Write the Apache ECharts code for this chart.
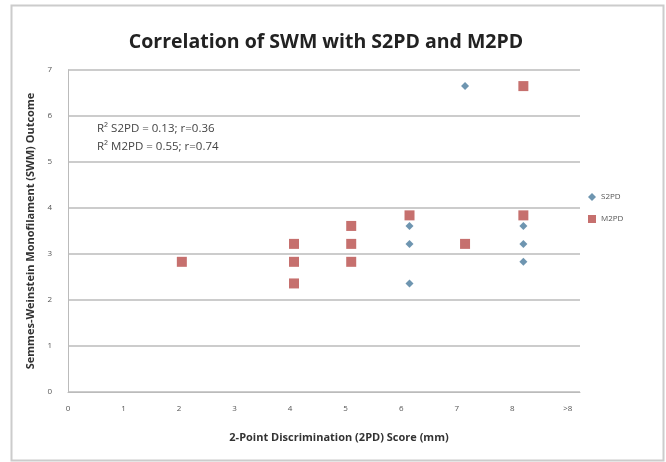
<!DOCTYPE html>
<html><head><meta charset="utf-8">
<script src="https://cdn.jsdelivr.net/npm/echarts@6/dist/echarts.min.js"></script>
<style>html,body{margin:0;padding:0;background:#fff}#c{width:666px;height:462px}</style>
</head><body><div id="c"></div>
<script>
const titleText = "Correlation of SWM with S2PD and M2PD";
const xAxisName = "2-Point Discrimination (2PD) Score (mm)";
const yAxisName = "Semmes-Weinstein Monofilament (SWM) Outcome";
const xTickLabels = ["0","1","2","3","4","5","6","7","8",">8"];
const annotLines = ["R\u00B2 S2PD = 0.13; r=0.36", "R\u00B2 M2PD = 0.55; r=0.74"];
const s2pdX = [6.15, 6.15, 6.15, 7.15, 8.2, 8.2, 8.2];
const s2pdY = [3.61, 3.22, 2.36, 6.65, 3.61, 3.22, 2.83];
const m2pdX = [2.05, 4.07, 4.07, 4.07, 5.1, 5.1, 5.1, 6.15, 7.15, 8.2, 8.2];
const m2pdY = [2.83, 3.22, 2.83, 2.36, 3.61, 3.22, 2.83, 3.84, 3.22, 3.84, 6.65];

const chart = echarts.init(document.getElementById('c'), null, {renderer:'canvas'});
const font = 'Open Sans, Liberation Sans, sans-serif';
chart.setOption({
  backgroundColor:'#fff',
  animation:false,
  title:{text:titleText,left:321,textAlign:'center',top:27,
    textStyle:{fontFamily:font,fontSize:19.5,fontWeight:'bold',color:'#222'}},
  grid:{left:68,right:86,top:70,bottom:70},
  legend:{orient:'vertical',left:583,top:188,itemGap:14,itemWidth:8,itemHeight:8,
    textStyle:{fontFamily:font,fontSize:8,color:'#555'},
    data:[{name:'S2PD',icon:'diamond'},{name:'M2PD',icon:'rect'}]},
  xAxis:{type:'value',min:0,max:9.22,interval:1,
    name:xAxisName,nameLocation:'middle',nameGap:40,
    nameTextStyle:{fontFamily:font,fontSize:11,fontWeight:'bold',color:'#333',padding:[0,0,0,30]},
    axisLine:{show:true,lineStyle:{color:'#bbb',width:1}},
    axisTick:{show:false},splitLine:{show:false},
    axisLabel:{fontFamily:font,fontSize:8,color:'#555',margin:13,showMaxLabel:false,
      formatter:v=>{const i=Math.round(v);return Math.abs(v-i)<1e-6&&xTickLabels[i]!==undefined?xTickLabels[i]:'';}}},
  yAxis:{type:'value',min:0,max:7,interval:1,
    name:yAxisName,nameLocation:'middle',nameGap:22,nameRotate:90,
    nameTextStyle:{fontFamily:font,fontSize:11,fontWeight:'bold',color:'#333'},
    axisLine:{show:true,lineStyle:{color:'#bbb',width:1}},
    axisTick:{show:false},
    splitLine:{show:true,lineStyle:{color:'#bbb',width:1.5}},
    axisLabel:{fontFamily:font,fontSize:8,color:'#555',margin:16}},
  graphic:[
    {type:'rect',shape:{x:11.5,y:5.5,width:652,height:455},style:{fill:null,stroke:'#ccc',lineWidth:2},silent:true},
    {type:'text',left:97,top:120,style:{text:annotLines.join('\n'),fontFamily:font,fontSize:11.5,lineHeight:18,fill:'#444'}}
  ],
  series:[
    {name:'S2PD',type:'scatter',symbol:'diamond',symbolSize:8,
      itemStyle:{color:'#4a7a9c'},data:s2pdX.map((x,i)=>[x,s2pdY[i]])},
    {name:'M2PD',type:'scatter',symbol:'rect',symbolSize:10,
      itemStyle:{color:'#b84c4a'},data:m2pdX.map((x,i)=>[x,m2pdY[i]])}
  ]
});
</script></body></html>
